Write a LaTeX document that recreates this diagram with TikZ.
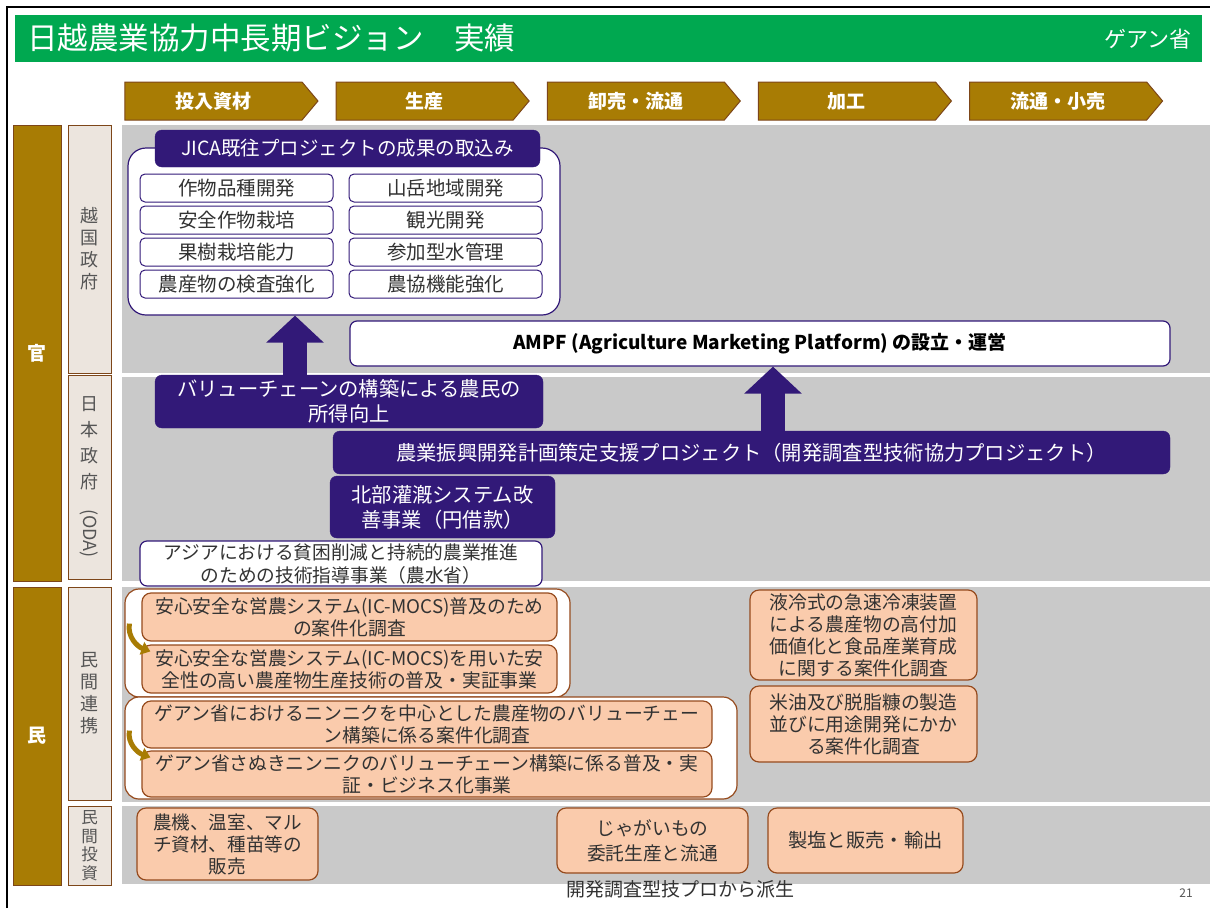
\documentclass[tikz,border=0pt]{standalone}
\usepackage{fontspec}
\setmainfont{Noto Sans CJK JP}
\usepackage{tikz}
\usetikzlibrary{arrows.meta,positioning,shapes.symbols}

\definecolor{titlegreen}{RGB}{0,168,80}
\definecolor{stagegold}{RGB}{168,124,4}
\definecolor{sideborder}{RGB}{125,70,25}
\definecolor{labelbeige}{RGB}{236,229,222}
\definecolor{labeltext}{RGB}{85,85,85}
\definecolor{panelgrey}{RGB}{201,201,201}
\definecolor{navy}{RGB}{50,25,120}
\definecolor{peach}{RGB}{250,203,172}
\definecolor{peachline}{RGB}{150,75,30}
\definecolor{darktext}{RGB}{50,50,50}

\begin{document}
\begin{tikzpicture}[x=1pt,y=-1pt,>=Latex,
  sidebar/.style={draw=sideborder,fill=stagegold,line width=1pt,text=white,font=\fontsize{19}{22}\selectfont\bfseries,inner sep=0pt},
  sidelabel/.style={draw=sideborder,fill=labelbeige,line width=1pt,text=labeltext,align=center,font=\fontsize{18}{22}\selectfont,inner sep=0pt},
  stage/.style={signal,signal to=east,signal pointer angle=100,draw=sideborder,fill=stagegold,line width=1pt,text=white,font=\fontsize{19}{20}\selectfont\bfseries,minimum height=38,minimum width=193,inner sep=0pt},
  navybox/.style={draw=navy,fill=navy,rounded corners=7pt,text=white,align=center,font=\fontsize{20.3}{25}\selectfont,inner sep=0pt},
  whitebox/.style={draw=navy,fill=white,line width=1.2pt,rounded corners=7pt,text=darktext,align=center,font=\fontsize{18.7}{23}\selectfont,inner sep=0pt},
  itembox/.style={draw=navy,fill=white,line width=1pt,rounded corners=5pt,text=darktext,font=\fontsize{19.5}{20}\selectfont,minimum width=193,minimum height=28,inner sep=0pt},
  peachbox/.style={draw=peachline,fill=peach,line width=1.2pt,rounded corners=9pt,text=darktext,align=center,font=\fontsize{18.8}{22}\selectfont,inner sep=0pt},
  groupbox/.style={draw=peachline,fill=white,line width=1.2pt,rounded corners=14pt},
  bigarrow/.style={draw=navy,line width=24pt,-{Triangle[width=56pt,length=27pt]}},
  linkarrow/.style={draw=stagegold,line width=5pt,-{Triangle[width=13pt,length=9pt]}}]

\useasboundingbox (0,0) rectangle (1210,908);
\fill[white] (0,0) rectangle (1210,908);
\draw[line width=2pt] (7,908) -- (7,7) -- (1210,7);

% title
\fill[titlegreen] (15,15) rectangle (1202,62);
\node[anchor=west,text=white,font=\fontsize{30.5}{32}\selectfont,inner sep=0pt] (title) at (27,38) {日越農業協力中長期ビジョン　実績};
\node[anchor=east,text=white,font=\fontsize{22}{24}\selectfont,inner sep=0pt] (area) at (1192,39) {ゲアン省};

% value chain stages
\node[stage] (s1) at (213.5,101) {投入資材};
\node[stage,right=17pt of s1] (s2) {生産};
\node[stage,right=17pt of s2] (s3) {卸売・流通};
\node[stage,right=17pt of s3] (s4) {加工};
\node[stage,right=17pt of s4] (s5) {流通・小売};

% rows
\fill[panelgrey] (122,125) rectangle (1210,373);
\fill[panelgrey] (122,377) rectangle (1210,581);
\fill[panelgrey] (122,587) rectangle (1210,802);
\fill[panelgrey] (122,806) rectangle (1210,884);

\node[sidebar,minimum width=48,minimum height=456] (kan) at (37,353) {官};
\node[sidebar,minimum width=48,minimum height=298] (min) at (37,736) {民};
\node[sidelabel,minimum width=43,minimum height=248] (vngov) at (89.5,249) {越\\国\\政\\府};
\node[sidelabel,minimum width=43,minimum height=204,font=\fontsize{18}{26}\selectfont] (jpgov) at (89.5,477) {日\\本\\政\\府\\[-5pt]\rotatebox{-90}{(ODA)}};
\node[sidelabel,minimum width=43,minimum height=213] (ppp) at (89.5,693.5) {民\\間\\連\\携};
\node[sidelabel,minimum width=43,minimum height=79,font=\fontsize{16.5}{18.5}\selectfont] (inv) at (89.5,845.5) {民\\間\\投\\資};

% JICA results
\node[whitebox,minimum width=432,minimum height=167,rounded corners=18pt] (jica) at (344,231.5) {};
\node[navybox,minimum width=385,minimum height=37,font=\fontsize{19.5}{22}\selectfont] (jicahead) at (347.5,148.5) {JICA既往プロジェクトの成果の取込み};
\node[itembox] (crop) at (236.5,188) {作物品種開発};
\node[itembox] (safe) at (236.5,220) {安全作物栽培};
\node[itembox] (fruit) at (236.5,252) {果樹栽培能力};
\node[itembox] (inspect) at (236.5,284) {農産物の検査強化};
\node[itembox] (mount) at (445.5,188) {山岳地域開発};
\node[itembox] (tour) at (445.5,220) {観光開発};
\node[itembox] (water) at (445.5,252) {参加型水管理};
\node[itembox] (coop) at (445.5,284) {農協機能強化};

\node[whitebox,minimum width=820,minimum height=45,font=\fontsize{19}{22}\selectfont\bfseries,text=black] (ampf) at (760,343.5) {AMPF (Agriculture Marketing Platform) の設立・運営};

% ODA
\node[navybox,minimum width=388,minimum height=53] (vc) at (349,401.5) {バリューチェーンの構築による農民の\\所得向上};
\node[navybox,minimum width=837,minimum height=43] (plan) at (751.5,452.5) {農業振興開発計画策定支援プロジェクト（開発調査型技術協力プロジェクト）};
\node[navybox,minimum width=225,minimum height=62] (irrig) at (442.5,507) {北部灌漑システム改\\善事業（円借款）};
\node[whitebox,minimum width=402,minimum height=45] (maff) at (341,563.5) {アジアにおける貧困削減と持続的農業推進\\のための技術指導事業（農水省）};

\draw[bigarrow] ([xshift=-54pt]vc.north) -- ([xshift=-54pt]vc.north |- jica.south);
\draw[bigarrow] ([xshift=21.5pt]plan.north) -- ([xshift=21.5pt]plan.north |- ampf.south);

% private partnership
\node[groupbox,minimum width=445,minimum height=108] (grpa) at (347.5,643) {};
\node[peachbox,minimum width=415,minimum height=48] (icstudy) at (349.5,617) {安心安全な営農システム(IC-MOCS)普及のため\\の案件化調査};
\node[peachbox,minimum width=415,minimum height=48] (icdemo) at (349.5,669) {安心安全な営農システム(IC-MOCS)を用いた安\\全性の高い農産物生産技術の普及・実証事業};
\node[groupbox,minimum width=612,minimum height=102] (grpb) at (431,748) {};
\node[peachbox,minimum width=570,minimum height=47] (garstudy) at (427,724.5) {ゲアン省におけるニンニクを中心とした農産物のバリューチェー\\ン構築に係る案件化調査};
\node[peachbox,minimum width=570,minimum height=46] (gardemo) at (427,774) {ゲアン省さぬきニンニクのバリューチェーン構築に係る普及・実\\証・ビジネス化事業};
\node[peachbox,minimum width=227,minimum height=90] (freeze) at (863.5,635) {液冷式の急速冷凍装置\\による農産物の高付加\\価値化と食品産業育成\\に関する案件化調査};
\node[peachbox,minimum width=227,minimum height=76] (ricebran) at (863.5,724) {米油及び脱脂糠の製造\\並びに用途開発にかか\\る案件化調査};

\draw[linkarrow] ([xshift=-12pt,yshift=18pt]icstudy.south west) to[out=-100,in=160] ([xshift=9pt,yshift=-7pt]icdemo.north west);
\draw[linkarrow] ([xshift=-12pt,yshift=18pt]garstudy.south west) to[out=-100,in=160] ([xshift=9pt,yshift=-7pt]gardemo.north west);

% private investment
\node[peachbox,minimum width=181,minimum height=72,font=\fontsize{18.6}{22}\selectfont] (machine) at (227.5,844) {農機、温室、マル\\チ資材、種苗等の\\販売};
\node[peachbox,minimum width=191,minimum height=65,font=\fontsize{18.7}{25}\selectfont] (potato) at (652.5,840.5) {じゃがいもの\\委託生産と流通};
\node[peachbox,minimum width=195,minimum height=65,font=\fontsize{19.3}{22}\selectfont] (salt) at (865.5,840.5) {製塩と販売・輸出};
\node[text=darktext,font=\fontsize{19}{20}\selectfont,inner sep=0pt] (derived) at (680,889) {開発調査型技プロから派生};
\node[text=labeltext,font=\fontsize{12}{14}\selectfont,inner sep=0pt] (page) at (1186,893) {21};
\end{tikzpicture}
\end{document}
